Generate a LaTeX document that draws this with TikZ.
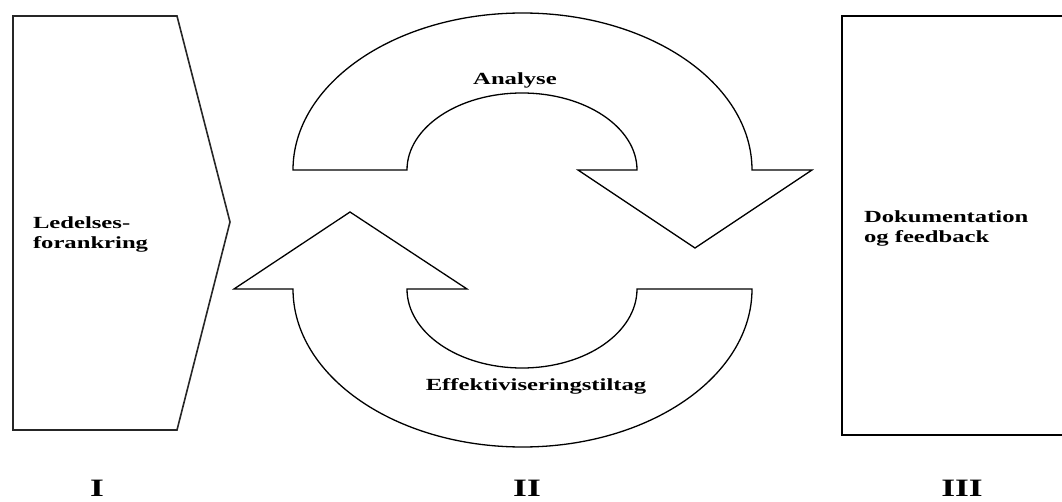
\documentclass[tikz,border=0pt]{standalone}
\usepackage{fontspec}
\setmainfont{Liberation Serif}
\usepackage{graphicx}
\newcommand{\lbl}[1]{\scalebox{1.45}[1]{\fontsize{17}{20}\selectfont\bfseries #1}}
\newcommand{\numeral}[1]{\scalebox{1.42}[1]{\fontsize{25}{28}\selectfont\bfseries #1}}
\tikzset{
  outline/.style={draw=black, line width=1.3pt, line join=miter, fill=white},
  txt/.style={inner sep=0pt, outer sep=0pt}
}
\begin{document}
\begin{tikzpicture}[x=1pt,y=1pt]
  \useasboundingbox (0,0) rectangle (1062,501);
  \begin{scope}
    \clip (0,0) rectangle (1062,501);
    % phase I: pointed block
    \draw[outline, draw=black!85, line width=1.6pt]
      (13,485) -- (177,485) -- (230,279) -- (177,71) -- (13,71) -- cycle;
    % phase III: box running off to the right
    \draw[outline, line width=1.6pt] (842,66) rectangle (1075,485);
    \draw[line width=2.6pt] (841,66) -- (1075,66);
    % phase II: upper curved arrow
    \draw[outline]
      (293,331) arc[start angle=180, end angle=0, x radius=229.5pt, y radius=157pt]
      -- (812,331) -- (695,253) -- (578,331) -- (637,331)
      arc[start angle=0, end angle=180, x radius=115pt, y radius=77pt]
      -- cycle;
    % phase II: lower curved arrow
    \draw[outline]
      (234,212) -- (350,289) -- (467,212) -- (407,212)
      arc[start angle=180, end angle=360, x radius=115pt, y radius=79pt]
      -- (752,212)
      arc[start angle=0, end angle=-180, x radius=229.5pt, y radius=158pt]
      -- cycle;
  \end{scope}
  % labels
  \node[txt, anchor=base west] (lede) at (33,272)
    {\lbl{\begin{tabular}[t]{@{}l@{}}Ledelses-\\forankring\end{tabular}}};
  \node[txt, anchor=base west] (doku) at (864,278)
    {\lbl{\begin{tabular}[t]{@{}l@{}}Dokumentation\\og feedback\end{tabular}}};
  \node[txt, anchor=base] (analyse) at (515,416) {\lbl{Analyse}};
  \node[txt, anchor=base] (effekt) at (536,111) {\lbl{Effektiviseringstiltag}};
  \node[txt, anchor=base] (n1) at (97,5) {\numeral{I}};
  \node[txt, anchor=base] (n2) at (527,5) {\numeral{II}};
  \node[txt, anchor=base] (n3) at (962,5) {\numeral{III}};
\end{tikzpicture}
\end{document}
